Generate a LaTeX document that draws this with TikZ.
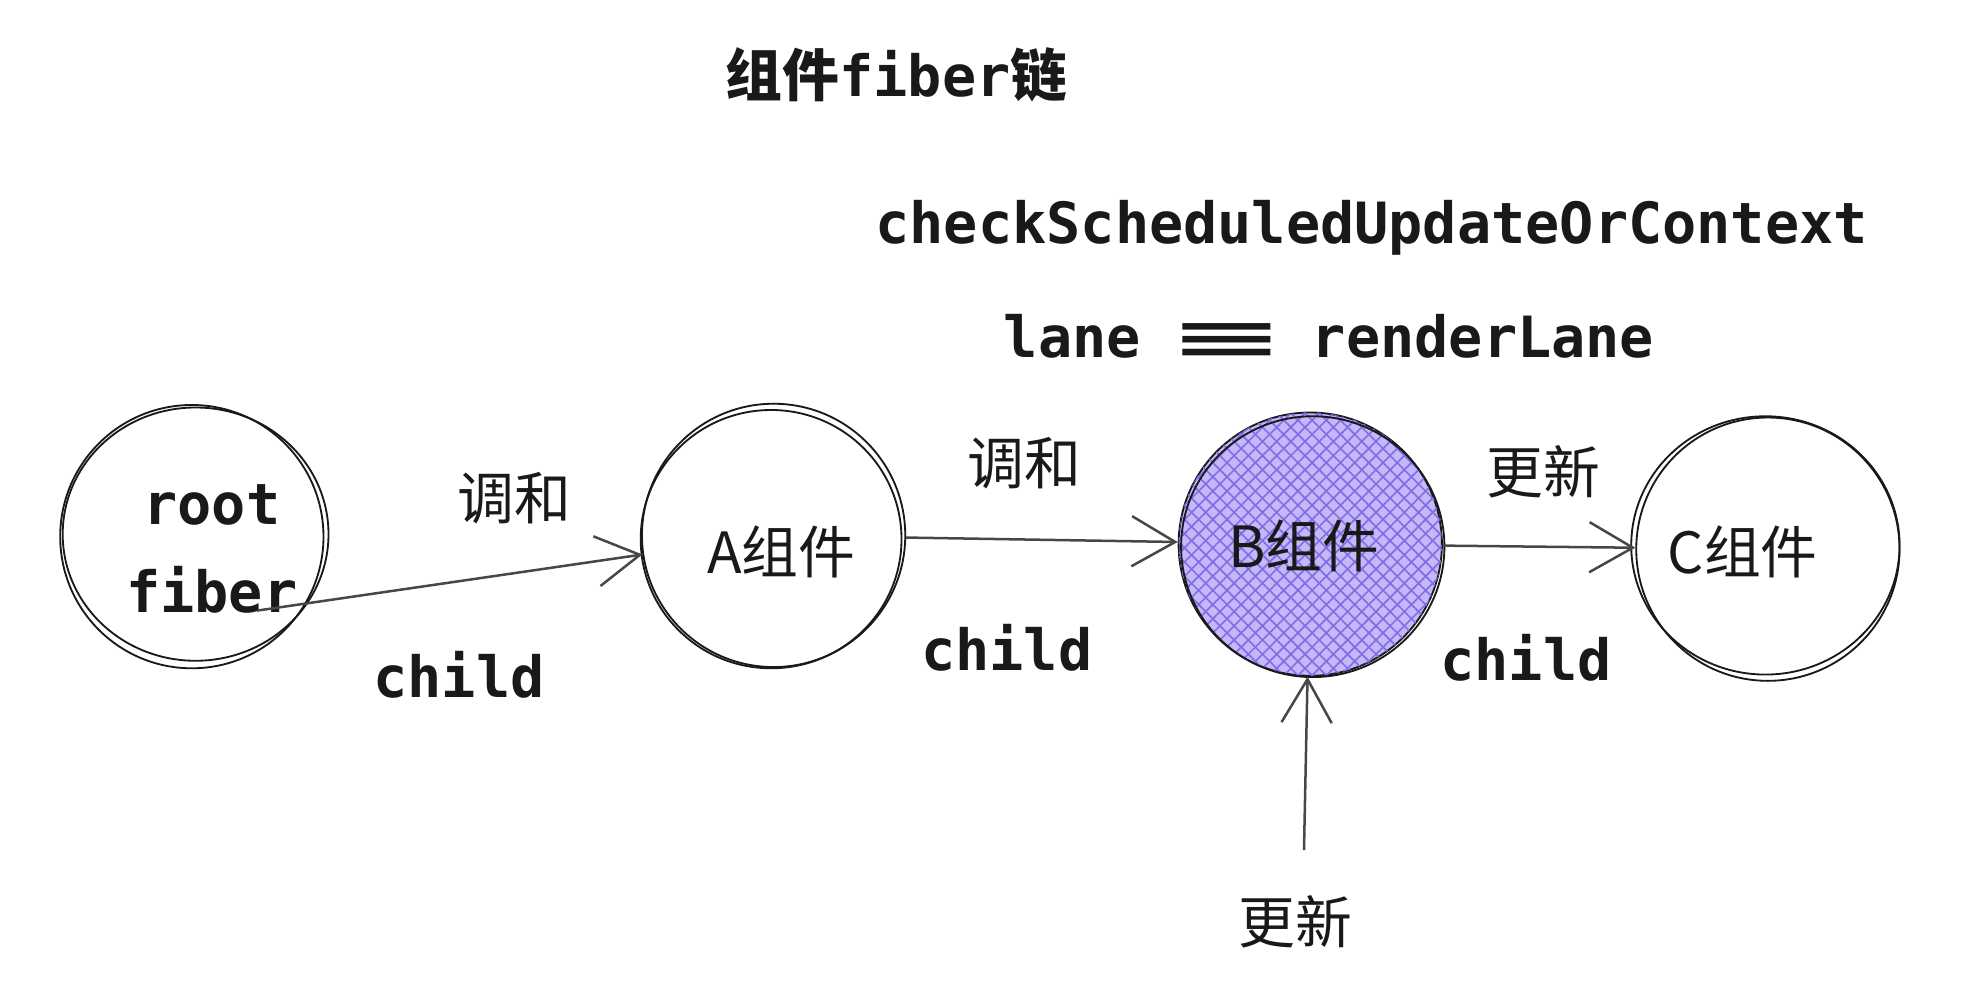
\documentclass[tikz,border=0pt]{standalone}
\usepackage{fontspec}
\usepackage{graphicx}
\setmonofont{DejaVu Sans Mono}
\newfontfamily\cjk{Noto Sans CJK SC}
\usetikzlibrary{arrows.meta,patterns.meta}

\definecolor{ink}{RGB}{25,25,25}
\definecolor{bfill}{RGB}{196,184,248}
\definecolor{bhatch}{RGB}{132,108,232}

\tikzset{
  sketch/.style={line width=1.1pt, color=ink},
  fiber/.style={circle, draw, sketch, minimum size=157.5pt, inner sep=0pt},
  link/.style={line width=1.5pt, color=ink!80, -{Straight Barb[length=26pt,width=30pt]}},
  txt/.style={inner sep=0.75pt, text=ink, font=\fontsize{34}{52.5}\selectfont},
  mono/.style={txt, font=\fontsize{34}{52.5}\selectfont\ttfamily\bfseries}
}

\begin{document}
\begin{tikzpicture}[x=0.75pt,y=0.75pt,yscale=-1,xscale=1]
\useasboundingbox (0,0) rectangle (1568,782);

%Shape: Circle
\node[fiber] (root) at (153,428) {};
\draw[sketch] ([shift={(3,-2)}]root.center) ellipse [x radius=106, y radius=101];
%Shape: Circle
\node[fiber] (A) at (617,427) {};
\draw[sketch] ([shift={(-2,3)}]A.center) ellipse [x radius=104, y radius=103];
%Shape: Circle
\node[fiber, fill=bfill,
  postaction={pattern={Lines[angle=45,distance=6pt,line width=1pt]}, pattern color=bhatch},
  postaction={pattern={Lines[angle=-45,distance=6pt,line width=1pt]}, pattern color=bhatch}] (B) at (1045,434) {};
\draw[sketch] ([shift={(2,2)}]B.center) ellipse [x radius=105, y radius=104];
%Shape: Circle
\node[fiber] (C) at (1410,438) {};
\draw[sketch] ([shift={(-2,-3)}]C.center) ellipse [x radius=107, y radius=103];

% Text Node
\node[mono] (title) at (715,60) {{\cjk\bfseries 组件}fiber{\cjk\bfseries 链}};
% Text Node
\node[mono] (check) at (1094,182) {checkScheduledUpdateOrContext};
% Text Node
\node[mono] (lane) at (1060,268) {lane \scalebox{3}[1]{≡} renderLane};
% Text Node
\node[mono, align=center] (rootlbl) at (169,438) {root\\fiber};
% Text Node
\node[txt] (Albl) at (623,440) {\cjk A组件};
% Text Node
\node[txt] (Blbl) at (1040,435) {\cjk B组件};
% Text Node
\node[txt] (Clbl) at (1390,440) {\cjk C组件};
% Text Node
\node[txt] (tiaohe1) at (410,397) {\cjk 调和};
% Text Node
\node[txt] (tiaohe2) at (817,369) {\cjk 调和};
% Text Node
\node[txt] (gengxin1) at (1231,376) {\cjk 更新};
% Text Node
\node[txt] (gengxin2) at (1033,735) {\cjk 更新};
% Text Node
\node[mono] (child1) at (366,538) {child};
% Text Node
\node[mono] (child2) at (803,517) {child};
% Text Node
\node[mono] (child3) at (1217,525) {child};

%Straight Lines
\coordinate (rootout) at (205,487);
\draw[link] (rootout) -- (A);
%Straight Lines
\draw[link] (A) -- (B);
%Straight Lines
\draw[link] (B) -- (C);
%Straight Lines
\coordinate (upd) at (1040,678);
\draw[link] (upd) -- (B);

\end{tikzpicture}
\end{document}
